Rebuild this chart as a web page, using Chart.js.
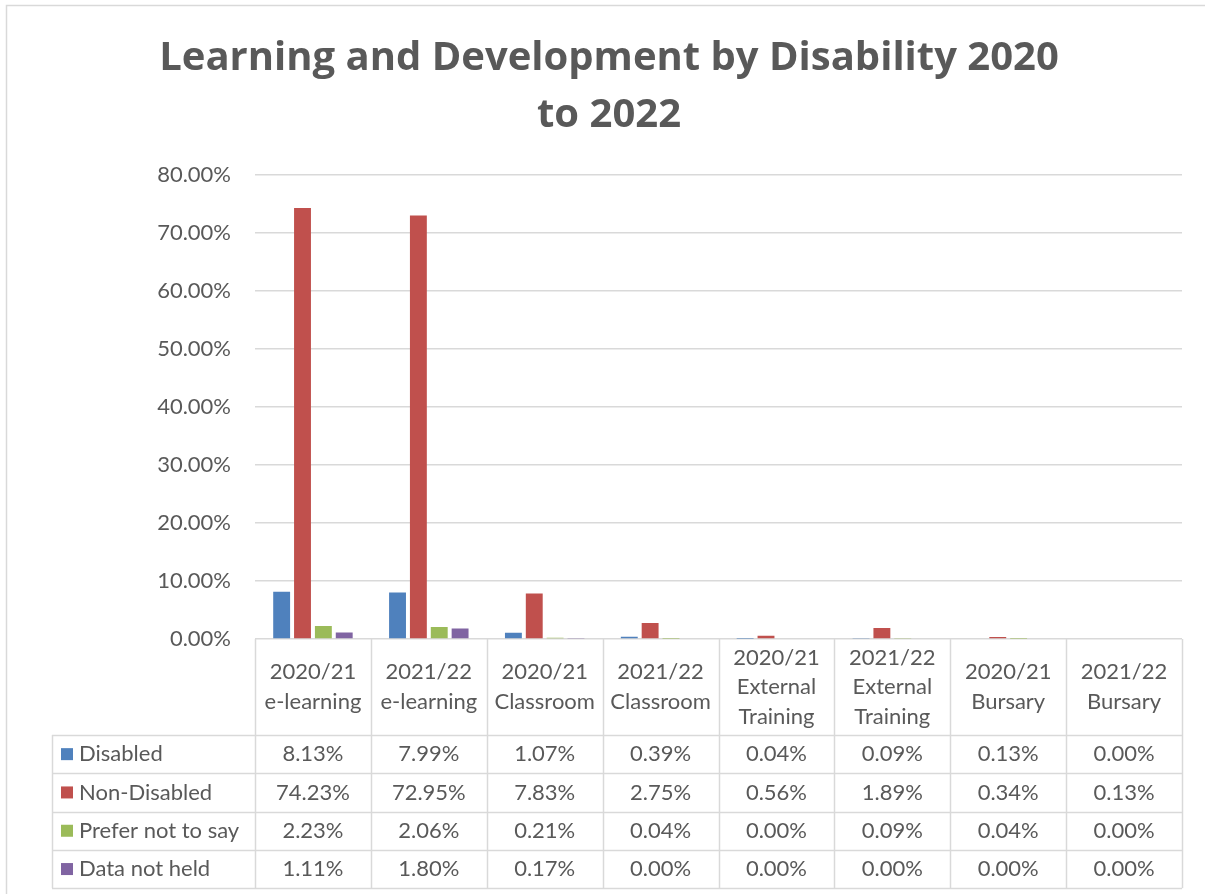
<!DOCTYPE html>
<html>
<head>
<meta charset="utf-8">
<script src="https://cdn.jsdelivr.net/npm/chart.js@4/dist/chart.umd.min.js"></script>
<style>
  html, body { margin: 0; padding: 0; background: #ffffff; }
  #wrap { position: relative; width: 1205px; height: 894px; }
  canvas { display: block; }
</style>
</head>
<body>
<div id="wrap"><canvas id="chart" width="1205" height="894"></canvas></div>
<script>
// Programme/year categories (multi-line header labels)
const categories = [
  ['2020/21', 'e-learning'],
  ['2021/22', 'e-learning'],
  ['2020/21', 'Classroom'],
  ['2021/22', 'Classroom'],
  ['2020/21', 'External', 'Training'],
  ['2021/22', 'External', 'Training'],
  ['2020/21', 'Bursary'],
  ['2021/22', 'Bursary']
];

// Share of participants (%) by disability status
const disabled       = [8.13, 7.99, 1.07, 0.39, 0.04, 0.09, 0.13, 0.00];
const nonDisabled    = [74.23, 72.95, 7.83, 2.75, 0.56, 1.89, 0.34, 0.13];
const preferNotToSay = [2.23, 2.06, 0.21, 0.04, 0.00, 0.09, 0.04, 0.00];
const dataNotHeld    = [1.11, 1.80, 0.17, 0.00, 0.00, 0.00, 0.00, 0.00];

const seriesNames  = ['Disabled', 'Non-Disabled', 'Prefer not to say', 'Data not held'];
const seriesColors = ['#4F81BD', '#C0504D', '#9BBB59', '#8064A2'];

// Value axis ticks
const yTicks = [0, 10, 20, 30, 40, 50, 60, 70, 80];

const FONT = 'Lato, "Open Sans", sans-serif';
const TITLE_FONT = '"Open Sans", Lato, sans-serif';
const TEXT = '#595959';
const LINE = '#D9D9D9';

const seriesValues = [disabled, nonDisabled, preferNotToSay, dataNotHeld];

// Excel-style data table drawn under the plot, aligned to the category scale
const dataTablePlugin = {
  id: 'dataTable',
  afterDraw(chart) {
    const ctx = chart.ctx;
    const area = chart.chartArea;
    const xs = chart.scales.x;
    const n = categories.length;
    const step = xs.getPixelForValue(1) - xs.getPixelForValue(0);
    const headerBottom = area.bottom + 96;
    const rowH = 38.3;
    const tableLeft = 52;
    const tableBottom = headerBottom + rowH * seriesNames.length;

    ctx.save();
    ctx.strokeStyle = LINE;
    ctx.lineWidth = 1.5;

    // vertical column dividers
    for (let i = 0; i <= n; i++) {
      const x = Math.round(xs.getPixelForValue(i) - step / 2) + 0.5;
      ctx.beginPath();
      ctx.moveTo(x, area.bottom);
      ctx.lineTo(x, tableBottom);
      ctx.stroke();
    }
    // horizontal row lines
    for (let r = 0; r <= seriesNames.length; r++) {
      const y = Math.round(headerBottom + r * rowH) + 0.5;
      ctx.beginPath();
      ctx.moveTo(tableLeft, y);
      ctx.lineTo(area.right, y);
      ctx.stroke();
    }
    // left edge of the legend column
    ctx.beginPath();
    ctx.moveTo(tableLeft + 0.5, headerBottom);
    ctx.lineTo(tableLeft + 0.5, tableBottom);
    ctx.stroke();

    ctx.fillStyle = TEXT;
    ctx.font = '22px ' + FONT;
    ctx.textAlign = 'center';
    ctx.textBaseline = 'middle';

    // header labels
    const lineH = 29.5;
    const headerMid = (area.bottom + headerBottom) / 2;
    categories.forEach((lines, i) => {
      const cx = xs.getPixelForValue(i);
      const y0 = headerMid - (lines.length - 1) * lineH / 2;
      lines.forEach((t, k) => ctx.fillText(t, cx, y0 + k * lineH));
    });

    // series rows
    seriesNames.forEach((name, r) => {
      const cy = headerBottom + r * rowH + rowH / 2;
      ctx.fillStyle = seriesColors[r];
      ctx.fillRect(61, cy - 6, 12, 12);
      ctx.fillStyle = TEXT;
      ctx.textAlign = 'left';
      ctx.fillText(name, 79, cy);
      ctx.textAlign = 'center';
      seriesValues[r].forEach((v, i) => {
        ctx.fillText(v.toFixed(2) + '%', xs.getPixelForValue(i), cy);
      });
    });

    // chart frame
    ctx.strokeStyle = LINE;
    ctx.lineWidth = 1.5;
    ctx.beginPath();
    ctx.moveTo(6.5, 894);
    ctx.lineTo(6.5, 5.5);
    ctx.lineTo(1205, 5.5);
    ctx.stroke();
    ctx.restore();
  }
};

new Chart(document.getElementById('chart'), {
  type: 'bar',
  data: {
    labels: categories,
    datasets: seriesNames.map((name, i) => ({
      label: name,
      data: seriesValues[i],
      backgroundColor: seriesColors[i],
      borderWidth: 0,
      categoryPercentage: 0.72,
      barPercentage: 0.81
    }))
  },
  options: {
    responsive: false,
    animation: false,
    devicePixelRatio: 1,
    layout: { padding: { left: 36, right: 23, top: 0, bottom: 255 } },
    plugins: {
      legend: { display: false },
      tooltip: { enabled: false },
      title: {
        display: true,
        text: ['Learning and Development by Disability 2020', 'to 2022'],
        color: TEXT,
        font: { family: TITLE_FONT, size: 40, weight: 'bold', lineHeight: 1.42 },
        padding: { top: 30, bottom: 31 }
      }
    },
    scales: {
      x: {
        display: false,
        grid: { display: false }
      },
      y: {
        min: 0,
        max: 80,
        afterBuildTicks(scale) {
          scale.ticks = yTicks.map(v => ({ value: v }));
        },
        afterFit(scale) { scale.width = 219; },
        border: { display: false },
        grid: { color: LINE, lineWidth: 1.5, drawTicks: false },
        ticks: {
          color: TEXT,
          padding: 24,
          font: { family: FONT, size: 22 },
          callback: v => v.toFixed(2) + '%'
        }
      }
    }
  },
  plugins: [dataTablePlugin]
});
</script>
</body>
</html>
